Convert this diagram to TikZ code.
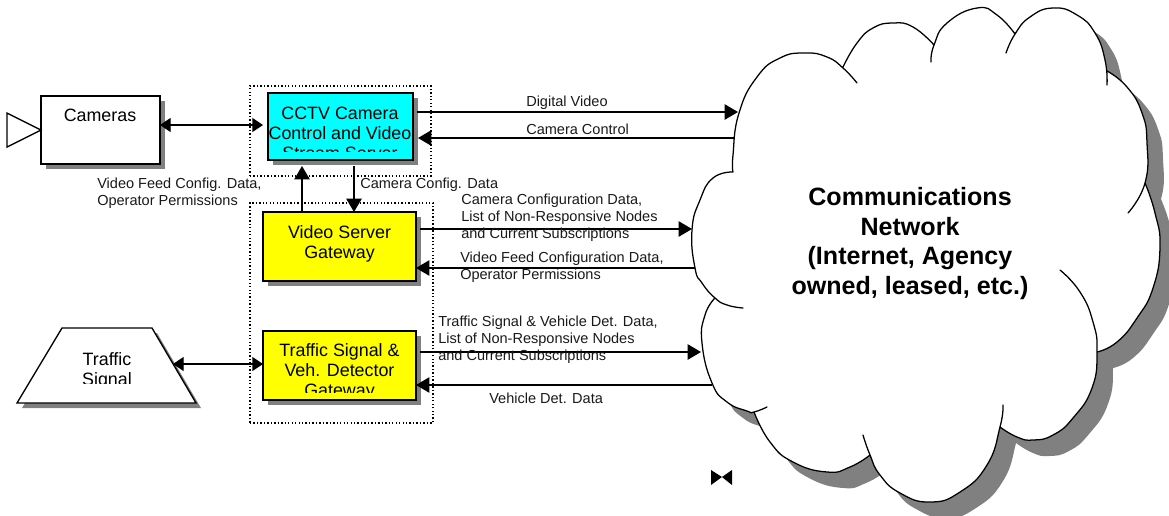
\documentclass[tikz,border=0pt]{standalone}
\usepackage{fontspec}
\setmainfont{Liberation Sans}
\usetikzlibrary{arrows.meta,shadows}
\definecolor{shadowgray}{RGB}{128,128,128}
\definecolor{boxcyan}{RGB}{0,255,255}
\definecolor{boxyellow}{RGB}{255,255,0}
\tikzset{
  boxnode/.style={draw=black,line width=1pt,inner sep=0pt,outer sep=0pt,
    copy shadow={shadow xshift=3.75pt,shadow yshift=-3.75pt,fill=shadowgray,draw=none}},
  dotbox/.style={draw=black,line width=1pt,dash pattern=on 1pt off 1.6pt,inner sep=0pt,outer sep=0pt},
  boxtext/.style={font=\fontsize{13.4pt}{15pt}\selectfont,align=center,inner sep=0pt,anchor=north},
  lbl/.style={font=\fontsize{10.9pt}{12.75pt}\selectfont,align=left,inner sep=0pt,anchor=west,text=black!90},
  conn/.style={line width=1pt},
  flow/.style={conn,-{Triangle[length=10pt,width=11.5pt]}},
  both/.style={conn,{Triangle[length=8pt,width=10.5pt]}-{Triangle[length=8pt,width=10.5pt]}},
  cloudline/.style={line width=0.95pt,line cap=round}
}
\def\arcA{plot[smooth,tension=.85] coordinates{(733,172) (733,155) (739,113) (757,77) (780,58) (805,53) (827,57) (843,68) (857,83)}}
\def\arcB{plot[smooth,tension=.85] coordinates{(843,67) (857,43) (873,28) (893,23) (913,27) (934,45)}}
\def\arcC{plot[smooth,tension=.85] coordinates{(931,62) (934,45) (947,23) (977,8) (997,15) (1015,34)}}
\def\arcD{plot[smooth,tension=.85] coordinates{(1006,53) (1015,34) (1030,17) (1053,8) (1077,15) (1095,33) (1105,60) (1107,85)}}
\def\arcE{plot[smooth,tension=.85] coordinates{(1107,71) (1127,87) (1142,113) (1147,143) (1145,183) (1128,213)}}
\def\arcF{plot[smooth,tension=.85] coordinates{(1145,183) (1155,213) (1160,247) (1153,288) (1137,318) (1117,342) (1097,352)}}
\def\arcG{plot[smooth,tension=.85] coordinates{(1060,270) (1080,292) (1093,322) (1097,352) (1092,388) (1073,418) (1053,435) (1033,440) (1017,437) (1000,427)}}
\def\arcH{plot[smooth,tension=.85] coordinates{(1003,405) (1000,427) (987,465) (960,492) (930,502) (900,493) (880,475) (870,455) (863,435)}}
\def\arcI{plot[smooth,tension=.85] coordinates{(870,455) (850,467) (827,472) (793,462) (770,442) (754,412)}}
\def\arcJ{plot[smooth,tension=.85] coordinates{(767,407) (754,412) (747,411) (727,402) (712,383) (702,343) (705,315) (715,298)}}
\def\arcK{plot[smooth,tension=.85] coordinates{(743,308) (727,305) (715,298) (702,283) (695,268) (692,230) (700,200) (713,178) (733,172)}}
\edef\cloudFill{\arcA -- \arcB -- \arcC -- \arcD -- \arcE -- \arcF -- \arcG -- \arcH -- \arcI -- \arcJ -- \arcK}
\begin{document}
\begin{tikzpicture}[x=0.75pt,y=-0.75pt]
\clip (0,0) rectangle (1169,515);
% cloud
\fill[shadowgray,shift={(16,16)}] \cloudFill -- cycle;
\fill[white] \cloudFill -- cycle;
\draw[cloudline] \arcA \arcB \arcC \arcD \arcE \arcF \arcG \arcH \arcI \arcJ \arcK;
\node[font=\bfseries\fontsize{18.8pt}{22.3pt}\selectfont,align=center,inner sep=0pt] (net) at (910,243.5)
  {Communications\\Network\\(Internet, Agency\\owned, leased, etc.)};
% cloud connector ends
\coordinate (cDV) at (738,112);
\coordinate (cCC) at (735,138);
\coordinate (cCam) at (692,229);
\coordinate (cFeed) at (695,268);
\coordinate (cTS) at (701,352);
\coordinate (cVeh) at (712,385);
% cameras
\node[boxnode,fill=white,minimum width=89.25pt,minimum height=51pt] (cam) at (100.5,130) {};
\node[boxtext] (camt) at (100,109) {Cameras};
\draw[line width=1pt,fill=white] (7,113) -- (41,130) -- (7,147) -- cycle;
% cctv
\node[boxnode,fill=boxcyan,minimum width=108.75pt,minimum height=50.25pt] (cctv) at (340.5,126.5) {};
\begin{scope}
\clip (262,96) rectangle (420,151);
\node[boxtext] (cctvt) at (340,106.5) {CCTV Camera\\Control and Video\\Stream Server};
\end{scope}
% video gateway
\node[boxnode,fill=boxyellow,minimum width=114.75pt,minimum height=51.75pt] (vgw) at (339.5,246.5) {};
\node[boxtext] (vgwt) at (339.5,225) {Video Server\\Gateway};
% traffic gateway
\node[boxnode,fill=boxyellow,minimum width=114.75pt,minimum height=51.75pt] (tgw) at (339.5,365.5) {};
\begin{scope}
\clip (262,334) rectangle (420,392);
\node[boxtext] (tgwt) at (339.5,343) {Traffic Signal \&\\Veh. Detector\\Gateway};
\end{scope}
% traffic signal
\fill[shadowgray] (22,408) -- (67,333) -- (157,333) -- (201,408) -- cycle;
\draw[line width=1pt,fill=white] (17,403) -- (62,328) -- (152,328) -- (196,403) -- cycle;
\coordinate (sigE) at (173,364);
\begin{scope}
\clip (40,340) rectangle (175,383);
\node[boxtext] (sigt) at (107,352) {Traffic\\Signal};
\end{scope}
% dotted groups
\node[dotbox,minimum width=135.75pt,minimum height=67.5pt] (grpA) at (340.5,131) {};
\node[dotbox,minimum width=137.25pt,minimum height=165pt] (grpB) at (341.5,313) {};
% connectors
\draw[both,shorten >=3.75pt] (cam.east |- 0,125) -- (cctv.west |- 0,125);
\draw[both] (sigE) -- (tgw.west |- 0,364);
\draw[flow] (cctv.east |- 0,112) ++(4,0) -- (cDV);
\draw[flow,shorten >=3.75pt] (cCC) -- (cctv.east |- 0,138);
\draw[flow,shorten >=4.5pt] (vgw.north -| 302,0) -- (cctv.south -| 302,0);
\draw[flow,shorten <=4.5pt] (cctv.south -| 354,0) -- (vgw.north -| 354,0);
\draw[flow] (vgw.east |- 0,229) ++(4,0) -- (cCam);
\draw[flow] (cFeed) -- (vgw.east |- 0,268);
\draw[flow] (tgw.east |- 0,352) ++(4,0) -- (cTS);
\draw[flow] (cVeh) -- (tgw.east |- 0,385);
% labels
\node[lbl] (l1) at (526,103) {Digital Video};
\node[lbl] (l2) at (526,129) {Camera Control};
\node[lbl] (l3) at (360,185) {Camera Config. Data};
\node[lbl] (l4) at (97,193.5) {Video Feed Config. Data,\\Operator Permissions};
\node[lbl] (l5) at (461,218) {Camera Configuration Data,\\List of Non-Responsive Nodes\\and Current Subscriptions};
\node[lbl] (l6) at (460,267) {Video Feed Configuration Data,\\Operator Permissions};
\node[lbl] (l7) at (438,340) {Traffic Signal \& Vehicle Det. Data,\\List of Non-Responsive Nodes\\and Current Subscriptions};
\node[lbl] (l8) at (489,398) {Vehicle Det. Data};
% bowtie
\fill[black] (711,470) -- (722,477) -- (732,470) -- (732,485) -- (722,477) -- (711,485) -- cycle;
\end{tikzpicture}
\end{document}
